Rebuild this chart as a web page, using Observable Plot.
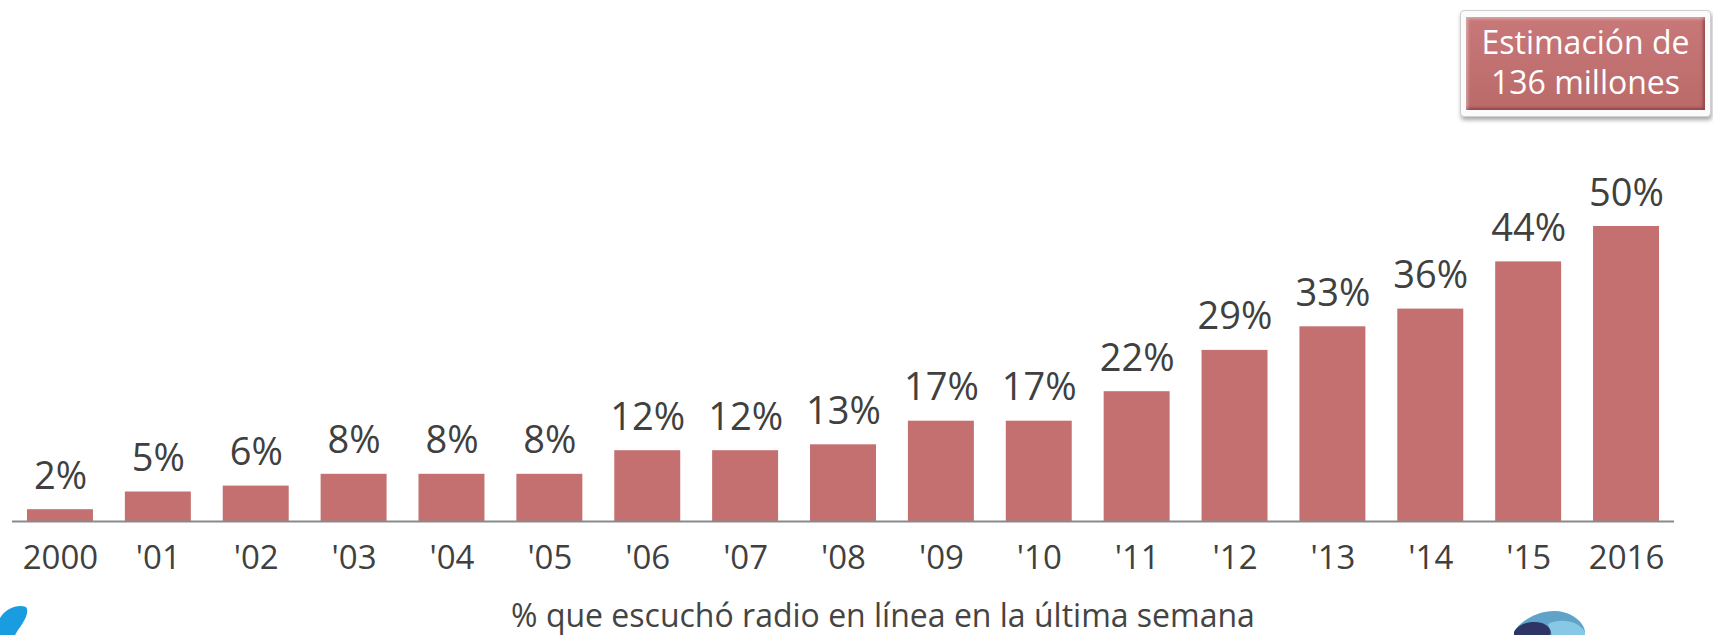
<!DOCTYPE html>
<html>
<head>
<meta charset="utf-8">
<script src="https://cdn.jsdelivr.net/npm/d3@7"></script>
<script src="https://cdn.jsdelivr.net/npm/@observablehq/plot@0.6"></script>
<style>
  html, body { margin: 0; padding: 0; background: #fff; }
  body { width: 1713px; height: 635px; position: relative; overflow: hidden; font-family: "Open Sans", sans-serif; }
  #chart { position: absolute; left: 0; top: 0; }
  #subtitle { position: absolute; left: 0; width: 1766px; top: 593px; text-align: center; font-size: 32px; color: #444; white-space: nowrap; }
  #badge { position: absolute; left: 1460px; top: 10px; width: 251px; height: 107px; background: #fbfbfb; border: 1px solid #d0d0d0; border-radius: 4px; box-shadow: 1px 3px 4px rgba(0,0,0,0.35); box-sizing: border-box; }
  #badge .inner { position: absolute; left: 5px; top: 6px; right: 5px; bottom: 6px; background: linear-gradient(#c87878, #bb6a6a); box-shadow: inset 2px 2px 3px rgba(255,255,255,0.35), inset -2px -2px 3px rgba(90,20,20,0.45); color: #fff; font-size: 32px; line-height: 40px; text-align: center; padding-top: 5px; box-sizing: border-box; }
  #logos { position: absolute; left: 0; top: 0; }
</style>
</head>
<body>
<div id="chart"></div>
<div id="subtitle"></div>
<div id="badge"><div class="inner" id="badgeText"></div></div>
<svg id="logos" width="1713" height="635">
  <path d="M0,618 C6,608 18,604 26,607 C30,612 24,622 18,630 L15,635 L0,635 Z" fill="#1a9de0"/>
  <path d="M1514,632 C1520,620 1540,610 1556,611 C1572,612 1584,622 1585,632 L1585,635 L1514,635 Z" fill="#5fa4c8"/>
  <path d="M1548,624 C1560,618 1578,620 1585,632 L1585,635 L1552,635 Z" fill="#86c8e6"/>
  <path d="M1514,632 C1518,624 1530,620 1542,623 C1550,626 1552,632 1550,635 L1514,635 Z" fill="#2e3466"/>
</svg>
<script>
const years = ["2000", "'01", "'02", "'03", "'04", "'05", "'06", "'07", "'08", "'09", "'10", "'11", "'12", "'13", "'14", "'15", "2016"];
const shares = [2, 5, 6, 8, 8, 8, 12, 12, 13, 17, 17, 22, 29, 33, 36, 44, 50];
const subtitleText = "% que escuchó radio en línea en la última semana";
const badgeLines = ["Estimación de", "136 millones"];

const data = years.map((y, i) => ({year: y, value: shares[i]}));

const chart = Plot.plot({
  width: 1713,
  height: 590,
  marginTop: 226,
  marginBottom: 69,
  marginLeft: 12,
  marginRight: 39,
  style: {fontFamily: "'Open Sans', sans-serif", background: "transparent"},
  x: {domain: years, paddingInner: 0.326, paddingOuter: 0.153, round: false, label: null},
  y: {domain: [0, 50], axis: null},
  marks: [
    Plot.barY(data, {x: "year", y: "value", fill: "#c47070"}),
    Plot.ruleY([0], {stroke: "#8a8a8a", strokeWidth: 2}),
    Plot.text(data, {x: "year", y: "value", text: d => d.value + "%", lineAnchor: "bottom", dy: -21, fontSize: 38, fill: "#404040"}),
    Plot.axisX({tickSize: 0, tickPadding: 24, fontSize: 33, color: "#404040", label: null})
  ]
});
document.getElementById("chart").appendChild(chart);
document.getElementById("subtitle").textContent = subtitleText;
document.getElementById("badgeText").innerHTML = badgeLines.map(s => `<div>${s}</div>`).join("");
</script>
</body>
</html>
